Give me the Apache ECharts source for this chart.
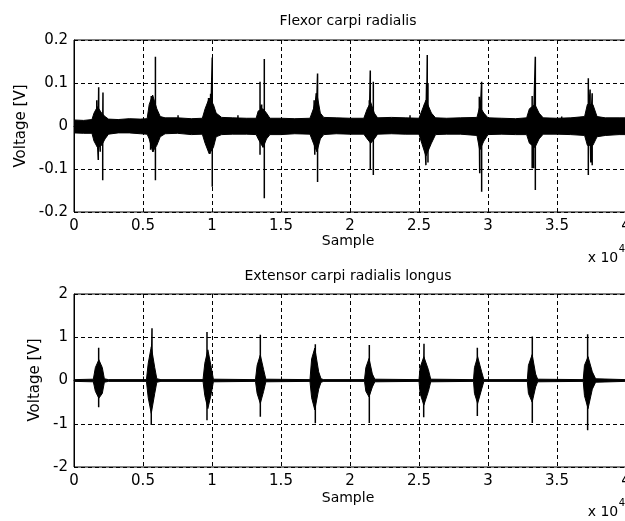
<!DOCTYPE html>
<html><head><meta charset="utf-8">
<script src="https://cdn.jsdelivr.net/npm/echarts@6/dist/echarts.min.js"></script>
<style>html,body{margin:0;padding:0;background:#fff}#c{width:625px;height:521px}</style>
</head><body><div id="c"></div>
<script>
// ---- tick labels ----
const xTickLabels = ['0','0.5','1','1.5','2','2.5','3','3.5','4'];
const topYTickLabels = ['-0.2','-0.1','0','0.1','0.2'];
const botYTickLabels = ['-2','-1','0','1','2'];

// ---- Flexor carpi radialis: noise/burst envelope ----
const topEnvSample = [0,700,1300,1450,1700,2000,2250,2500,3200,4000,4800,5300,5450,5700,6000,6250,6600,7500,8500,9300,9500,9800,10100,10300,10700,11500,12500,13200,13350,13700,13950,14200,15000,16000,17100,17350,17600,17850,18100,19000,20000,21000,21250,21500,21760,22000,23000,24000,25000,25200,25500,25900,26200,27000,28000,29200,29400,29700,30000,31000,32000,32800,33000,33400,33700,34000,35000,36000,37000,37200,37600,37900,38500,39500,40000];
const topEnvHigh = [0.014,0.013,0.015,0.030,0.045,0.030,0.022,0.016,0.015,0.017,0.016,0.017,0.050,0.072,0.040,0.022,0.019,0.019,0.017,0.018,0.040,0.065,0.050,0.030,0.020,0.019,0.018,0.018,0.035,0.040,0.030,0.018,0.018,0.017,0.018,0.040,0.075,0.030,0.020,0.019,0.018,0.018,0.040,0.055,0.030,0.019,0.020,0.019,0.018,0.035,0.060,0.030,0.019,0.018,0.019,0.020,0.045,0.030,0.019,0.018,0.017,0.019,0.040,0.050,0.030,0.019,0.018,0.019,0.022,0.050,0.050,0.022,0.019,0.019,0.019];
const topEnvLow = [-0.016,-0.017,-0.017,-0.035,-0.050,-0.045,-0.030,-0.019,-0.016,-0.016,-0.018,-0.019,-0.030,-0.060,-0.045,-0.025,-0.018,-0.017,-0.020,-0.019,-0.040,-0.065,-0.050,-0.025,-0.020,-0.019,-0.019,-0.020,-0.030,-0.050,-0.030,-0.020,-0.020,-0.018,-0.019,-0.040,-0.060,-0.030,-0.020,-0.018,-0.019,-0.019,-0.030,-0.040,-0.030,-0.019,-0.018,-0.019,-0.019,-0.040,-0.070,-0.040,-0.020,-0.019,-0.019,-0.022,-0.056,-0.035,-0.020,-0.019,-0.020,-0.020,-0.040,-0.050,-0.030,-0.019,-0.019,-0.020,-0.022,-0.045,-0.045,-0.025,-0.022,-0.020,-0.020];
// ---- Flexor carpi radialis: individual spikes ----
const topSpikeSample = [1650,1790,1760,1900,2100,2080,5550,5600,5750,5900,5900,7540,9750,9850,9900,10020,10020,11880,13480,13480,13600,13790,13790,17400,17450,17550,17650,17650,21400,21470,21470,21690,21690,24350,25400,25500,25550,25600,25650,25650,29370,29400,29540,29540,33200,33200,33300,33430,33430,35340,37270,37270,37400,37450,37550,37550];
const topSpikeValue = [0.060,0.090,-0.079,-0.060,0.078,-0.126,-0.055,0.070,-0.060,0.161,-0.126,0.025,0.065,-0.065,0.075,0.159,-0.141,0.025,0.103,-0.067,0.050,0.156,-0.168,0.060,-0.067,0.076,0.122,-0.130,0.060,0.129,-0.102,0.103,-0.114,0.025,0.050,-0.091,0.100,0.165,0.100,-0.085,0.068,-0.110,0.103,-0.153,0.070,-0.098,-0.098,0.161,-0.149,0.022,0.111,-0.114,0.085,-0.085,0.076,-0.091];

// ---- Extensor carpi radialis longus: envelope ----
const botEnvSample = [0,1400,1550,1800,2050,2200,2500,5250,5380,5600,5850,6000,6300,9350,9480,9700,9950,10100,13150,13270,13500,13740,13900,17100,17220,17450,17730,17900,18100,21050,21150,21380,21620,21800,25000,25080,25350,25680,25850,28950,29020,29250,29540,29700,32850,32930,33200,33450,33600,36900,36990,37250,37560,37800,40000];
const botEnvHigh = [0.02,0.03,0.30,0.48,0.30,0.04,0.02,0.02,0.40,0.78,0.30,0.04,0.02,0.02,0.40,0.71,0.30,0.03,0.02,0.35,0.59,0.25,0.03,0.02,0.50,0.75,0.20,0.04,0.02,0.02,0.30,0.51,0.15,0.03,0.02,0.30,0.55,0.25,0.03,0.02,0.30,0.55,0.20,0.02,0.02,0.35,0.60,0.15,0.03,0.02,0.35,0.55,0.20,0.04,0.02];
const botEnvLow = [-0.02,-0.03,-0.25,-0.41,-0.30,-0.04,-0.02,-0.02,-0.40,-0.76,-0.30,-0.04,-0.02,-0.02,-0.35,-0.65,-0.30,-0.03,-0.02,-0.30,-0.53,-0.25,-0.03,-0.02,-0.40,-0.68,-0.20,-0.04,-0.02,-0.02,-0.25,-0.38,-0.15,-0.03,-0.02,-0.30,-0.57,-0.25,-0.03,-0.02,-0.30,-0.53,-0.20,-0.02,-0.02,-0.30,-0.50,-0.15,-0.03,-0.02,-0.35,-0.65,-0.20,-0.04,-0.02];
// ---- Extensor carpi radialis longus: spikes ----
const botSpikeSample = [1787,1787,5652,5600,9637,9637,13502,13502,17487,17487,21400,21400,25362,25340,29227,29227,33210,33210,37220,37220];
const botSpikeValue = [0.76,-0.62,1.21,-1.03,1.12,-0.92,1.06,-0.84,0.84,-0.99,0.82,-0.98,0.85,-0.85,0.76,-0.82,1.02,-0.98,1.07,-1.15];

function pairs(xs, ys){ return xs.map((x,i)=>[x, ys[i]]); }
function spikePath(xs, ys){
  const idx = xs.map((x,i)=>i).sort((a,b)=>xs[a]-xs[b]);
  const out = [];
  idx.forEach(i=>{ out.push([xs[i],0]); out.push([xs[i],ys[i]]); out.push([xs[i],0]); });
  return out;
}

const FONT = 'DejaVu Sans';
const chart = echarts.init(document.getElementById('c'), null, {renderer:'canvas'});

function xAxisCfg(gi){
  return {
    type:'value', gridIndex:gi, min:0, max:40000, interval:5000,
    axisLine:{show:true, lineStyle:{color:'#000', width:1}},
    axisTick:{show:true, inside:true, length:4, lineStyle:{color:'#000'}},
    axisLabel:{color:'#000', fontFamily:FONT, fontSize:15, margin:7, showMaxLabel:true,
      formatter:v=>xTickLabels[Math.round(v/5000)]},
    splitLine:{show:true, lineStyle:{color:'#000', type:[4,3], width:1}}
  };
}
function yAxisCfg(gi, mn, mx, step, labels){
  return {
    type:'value', gridIndex:gi, min:mn, max:mx, interval:step,
    axisLine:{show:true, lineStyle:{color:'#000', width:1}},
    axisTick:{show:true, inside:true, length:4, lineStyle:{color:'#000'}},
    axisLabel:{color:'#000', fontFamily:FONT, fontSize:15, margin:6,
      formatter:v=>labels[Math.round((v-mn)/step)]},
    splitLine:{show:true, lineStyle:{color:'#000', type:[4,3], width:1}}
  };
}
function envSeries(gi, xs, vals){
  return {type:'line', xAxisIndex:gi, yAxisIndex:gi, data:pairs(xs, vals), symbol:'none',
    lineStyle:{color:'#000', width:1}, areaStyle:{color:'#000', opacity:1}, silent:true, animation:false};
}
function spikeSeries(gi, xs, vals){
  return {type:'line', xAxisIndex:gi, yAxisIndex:gi, data:spikePath(xs, vals), symbol:'none',
    lineStyle:{color:'#000', width:1.5}, silent:true, animation:false};
}
function txt(text, x, y, size, rot){
  return {type:'text', x:x, y:y, rotation:rot||0, silent:true,
    style:{text:text, font: size+'px "'+FONT+'"', fill:'#000', align:'center', verticalAlign:'middle'}};
}

chart.setOption({
  backgroundColor:'#fff',
  animation:false,
  grid:[
    {left:74, top:40, width:552, height:172, show:true, borderColor:'#000', borderWidth:1, backgroundColor:'#fff', outerBoundsMode:'none', containLabel:false},
    {left:74, top:294, width:552, height:173, show:true, borderColor:'#000', borderWidth:1, backgroundColor:'#fff', outerBoundsMode:'none', containLabel:false}
  ],
  xAxis:[xAxisCfg(0), xAxisCfg(1)],
  yAxis:[yAxisCfg(0,-0.2,0.2,0.1,topYTickLabels), yAxisCfg(1,-2,2,1,botYTickLabels)],
  series:[
    envSeries(0, topEnvSample, topEnvHigh),
    envSeries(0, topEnvSample, topEnvLow),
    spikeSeries(0, topSpikeSample, topSpikeValue),
    envSeries(1, botEnvSample, botEnvHigh),
    envSeries(1, botEnvSample, botEnvLow),
    spikeSeries(1, botSpikeSample, botSpikeValue)
  ],
  graphic:[
    txt('Flexor carpi radialis', 348, 21, 14),
    txt('Extensor carpi radialis longus', 348, 276, 14),
    txt('Sample', 348, 241, 14),
    txt('Sample', 348, 498, 14),
    txt('Voltage [V]', 21, 126, 15, Math.PI/2),
    txt('Voltage [V]', 35, 380, 15, Math.PI/2),
    txt('x 10', 603, 258, 14),
    txt('4', 622, 249, 10),
    txt('x 10', 603, 512, 14),
    txt('4', 622, 503, 10)
  ]
});
</script></body></html>
